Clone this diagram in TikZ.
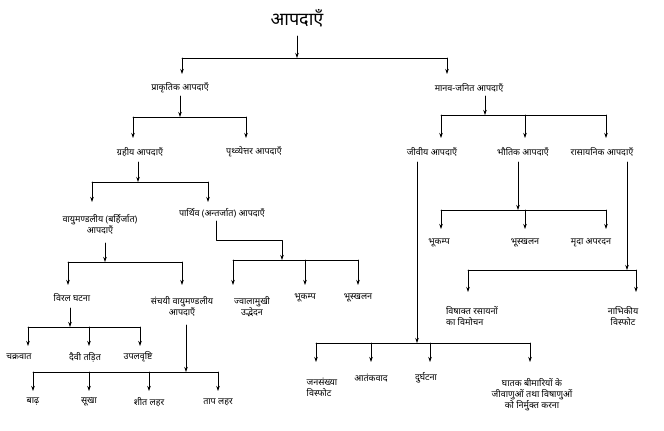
\documentclass[tikz,border=0pt]{standalone}
\usepackage{fontspec}
\newfontfamily\deva[Script=Devanagari]{Noto Sans}
\usetikzlibrary{arrows.meta}
\tikzset{
  lbl/.style={font=\deva\fontsize{9}{11}\selectfont, inner sep=1pt, align=center},
  arr/.style={-{Stealth[length=5pt,width=3.5pt]}},
  ln/.style={line width=0.7pt},
}
\begin{document}
\begin{tikzpicture}[x=1pt, y=-1pt, ln, line cap=round, line join=round]
  \useasboundingbox (0,0) rectangle (664,431);

  % title
  \node[lbl, font=\deva\bfseries\fontsize{18}{20}\selectfont] (root) at (297,18) {आपदाएँ};
  \coordinate (b0) at (297,58);
  \draw[arr] (297,36) -- (b0);
  \draw (182,58) -- (447,58);
  \foreach \x in {182,447} \draw[arr] (\x,58) -- (\x,74);

  % first level
  \node[lbl] (prak) at (180,88) {प्राकृतिक आपदाएँ};
  \node[lbl] (manav) at (469,88) {मानव-जनित आपदाएँ};

  % natural
  \draw[arr] (180,96) -- (180,117);
  \draw (133,117) -- (246,117);
  \foreach \x in {133,246} \draw[arr] (\x,117) -- (\x,138);
  \node[lbl] (grah) at (140,152) {ग्रहीय आपदाएँ};
  \node[lbl] (prith) at (254,152) {पृथ्व्येत्तर आपदाएँ};

  \draw[arr] (138,162) -- (138,182);
  \draw (92,182) -- (208,182);
  \foreach \x in {92,208} \draw[arr] (\x,182) -- (\x,202);
  \node[lbl] (vayu) at (100,224) {वायुमण्डलीय (बर्हिर्जात)\\आपदाएँ};
  \node[lbl] (parth) at (222,213) {पार्थिव (अन्तर्जात) आपदाएँ};

  % atmospheric
  \draw[arr] (105,243) -- (105,262);
  \draw (68,262) -- (182,262);
  \foreach \x in {68,182} \draw[arr] (\x,262) -- (\x,285);
  \node[lbl] (viral) at (72,298) {विरल घटना};
  \node[lbl] (sanch) at (182,306) {संचयी वायुमण्डलीय\\आपदाएँ};

  \draw[arr] (70,308) -- (70,327);
  \draw (28,327) -- (140,327);
  \foreach \x in {28,89,140} \draw[arr] (\x,327) -- (\x,346);
  \node[lbl] (chakra) at (19,357) {चक्रवात};
  \node[lbl] (taDit) at (85,357) {दैवी तड़ित};
  \node[lbl] (upal) at (138,357) {उपलवृष्टि};

  \draw[arr] (186,325) -- (186,372);
  \draw (33,372) -- (218,372);
  \foreach \x in {33,89,149,218} \draw[arr] (\x,372) -- (\x,391);
  \node[lbl] (baadh) at (33,402) {बाढ़};
  \node[lbl] (sookha) at (89,402) {सूखा};
  \node[lbl] (sheet) at (149,402) {शीत लहर};
  \node[lbl] (taap) at (218,402) {ताप लहर};

  % terrestrial
  \draw[arr] (216,221) -- (216,240) -- (282,240) -- (282,260);
  \draw (233,260) -- (358,260);
  \foreach \x in {233,305,358} \draw[arr] (\x,260) -- (\x,285);
  \node[lbl] (jwala) at (252,307) {ज्वालामुखी\\उद्भेदन};
  \node[lbl] (bhook1) at (305,298) {भूकम्प};
  \node[lbl] (bhoos1) at (358,298) {भूस्खलन};

  % man made
  \draw[arr] (485,96) -- (485,115);
  \draw (441,115) -- (606,115);
  \foreach \x in {441,525,606} \draw[arr] (\x,115) -- (\x,138);
  \node[lbl] (jeev) at (432,152) {जीवीय आपदाएँ};
  \node[lbl] (bhaut) at (523,152) {भौतिक आपदाएँ};
  \node[lbl] (rasa) at (602,152) {रासायनिक आपदाएँ};

  % physical
  \draw[arr] (518,162) -- (518,210);
  \draw (441,210) -- (606,210);
  \foreach \x in {441,525,606} \draw[arr] (\x,210) -- (\x,229);
  \node[lbl] (bhook2) at (439,243) {भूकम्प};
  \node[lbl] (bhoos2) at (525,243) {भूस्खलन};
  \node[lbl] (mrida) at (591,243) {मृदा अपरदन};

  % chemical
  \draw[arr] (627,162) -- (627,270);
  \draw (468,270) -- (636,270);
  \foreach \x in {468,636} \draw[arr] (\x,270) -- (\x,292);
  \node[lbl, align=left] (vish) at (472,316) {विषाक्त रसायनों\\का विमोचन};
  \node[lbl] (nabhi) at (623,316) {नाभिकीय\\विस्फोट};

  % biological
  \draw[arr] (417,162) -- (417,343);
  \draw (316,343) -- (530,343);
  \foreach \x in {316,371,430,530} \draw[arr] (\x,343) -- (\x,362);
  \node[lbl, align=left] (jan) at (322,387) {जनसंख्या\\विस्फोट};
  \node[lbl] (aatank) at (371,378) {आतंकवाद};
  \node[lbl] (durgh) at (426,378) {दुर्घटना};
  \node[lbl] (ghaatak) at (532,395) {घातक बीमारियों के\\जीवाणुओं तथा विषाणुओं\\को निर्मुक्त करना};
\end{tikzpicture}
\end{document}
